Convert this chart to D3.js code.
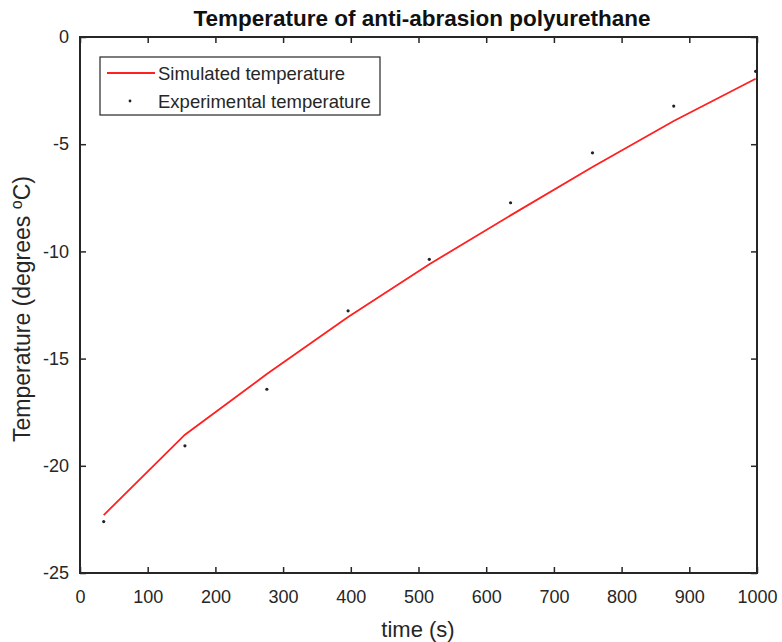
<!DOCTYPE html>
<html>
<head>
<meta charset="utf-8">
<script src="https://cdn.jsdelivr.net/npm/d3@7"></script>
<style>
body{margin:0;background:#fff;}
svg{display:block;font-family:"Liberation Sans",Arial,sans-serif;}
</style>
</head>
<body>
<svg id="chart" width="782" height="642"></svg>
<script>
const timeS = [35, 155, 276, 396, 516, 636, 757, 877, 998];
const simulatedTemp = [-22.3, -18.55, -15.72, -13.06, -10.6, -8.32, -6.06, -3.92, -1.95];
const experimentalTemp = [-22.6, -19.07, -16.43, -12.77, -10.37, -7.73, -5.4, -3.22, -1.6];
const xTicks = [0, 100, 200, 300, 400, 500, 600, 700, 800, 900, 1000];
const yTicks = [0, -5, -10, -15, -20, -25];

const svg = d3.select("#chart");
const L = 80, R = 757, T = 37, B = 573;
const x = d3.scaleLinear().domain([0, 1000]).range([L, R]);
const y = d3.scaleLinear().domain([-25, 0]).range([B, T]);
const fmt = d => String(d);

// axes with inward ticks
const gx = svg.append("g").attr("transform", `translate(0,${B})`)
  .call(d3.axisBottom(x).tickValues(xTicks).tickFormat(fmt).tickSizeInner(-6).tickSizeOuter(0).tickPadding(17));
const gxTop = svg.append("g").attr("transform", `translate(0,${T})`)
  .call(d3.axisTop(x).tickValues(xTicks).tickSizeInner(-6).tickSizeOuter(0).tickFormat(""));
const gy = svg.append("g").attr("transform", `translate(${L},0)`)
  .call(d3.axisLeft(y).tickValues(yTicks).tickFormat(fmt).tickSizeInner(-6).tickSizeOuter(0).tickPadding(11));
const gyR = svg.append("g").attr("transform", `translate(${R},0)`)
  .call(d3.axisRight(y).tickValues(yTicks).tickSizeInner(-6).tickSizeOuter(0).tickFormat(""));
[gx, gxTop, gy, gyR].forEach(g => {
  g.select(".domain").remove();
  g.selectAll(".tick line").attr("stroke", "#262626").attr("stroke-width", 1.5);
  g.selectAll(".tick text").attr("fill", "#262626").attr("font-size", 18)
    .attr("font-family", "Liberation Sans, Arial, sans-serif");
});

// frame
svg.append("rect").attr("x", L).attr("y", T).attr("width", R - L).attr("height", B - T)
  .attr("fill", "none").attr("stroke", "#262626").attr("stroke-width", 2);

// simulated line
const line = d3.line().x((d, i) => x(timeS[i])).y(d => y(d));
svg.append("path").datum(simulatedTemp).attr("d", line)
  .attr("fill", "none").attr("stroke", "#ff2020").attr("stroke-width", 1.8);

// experimental points
svg.selectAll("circle.exp").data(experimentalTemp).enter().append("circle")
  .attr("class", "exp").attr("cx", (d, i) => x(timeS[i])).attr("cy", d => y(d))
  .attr("r", 1.6).attr("fill", "#222");

// title
svg.append("text").attr("x", 422).attr("y", 26).attr("text-anchor", "middle")
  .attr("font-size", 22.5).attr("font-weight", "bold").attr("fill", "#111")
  .text("Temperature of anti-abrasion polyurethane");

// x label
svg.append("text").attr("x", 418).attr("y", 637).attr("text-anchor", "middle")
  .attr("font-size", 22).attr("fill", "#262626").text("time (s)");

// y label
const yl = svg.append("text").attr("transform", "translate(30,309) rotate(-90)")
  .attr("text-anchor", "middle").attr("font-size", 23).attr("fill", "#262626");
yl.append("tspan").text("Temperature (degrees ");
yl.append("tspan").attr("dy", -8).attr("font-size", 16).text("o");
yl.append("tspan").attr("dy", 8).text("C)");

// legend
const lg = svg.append("g");
lg.append("rect").attr("x", 100).attr("y", 57).attr("width", 280).attr("height", 58)
  .attr("fill", "#fff").attr("stroke", "#262626").attr("stroke-width", 1.2);
lg.append("line").attr("x1", 107).attr("x2", 155).attr("y1", 73).attr("y2", 73)
  .attr("stroke", "#ff2020").attr("stroke-width", 1.8);
lg.append("text").attr("x", 158).attr("y", 79.5).attr("font-size", 18.5).attr("fill", "#262626")
  .text("Simulated temperature");
lg.append("circle").attr("cx", 130).attr("cy", 101).attr("r", 1.4).attr("fill", "#222");
lg.append("text").attr("x", 158).attr("y", 107.5).attr("font-size", 18.5).attr("fill", "#262626")
  .text("Experimental temperature");
</script>
</body>
</html>
